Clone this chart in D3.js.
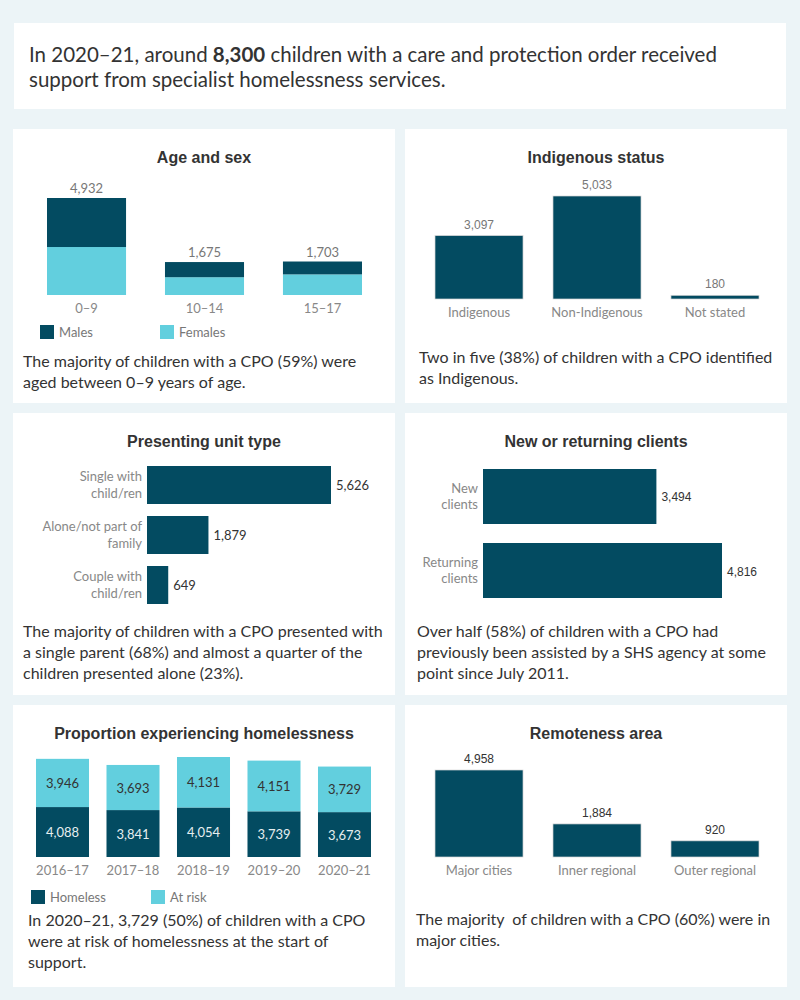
<!DOCTYPE html>
<html><head><meta charset="utf-8">
<script src="https://cdn.jsdelivr.net/npm/d3@7"></script>
<style>
html,body{margin:0;padding:0;background:#ECF4F7;}
svg{display:block;}
</style></head>
<body>
<svg id="chart" width="800" height="1000"></svg>
<script>
// ---------- DATA ----------
const ageGroups = ["0–9", "10–14", "15–17"];
const ageMales = [2492, 770, 655];
const ageFemales = [2440, 905, 1048];
const ageTotals = [4932, 1675, 1703];

const indigCats = ["Indigenous", "Non-Indigenous", "Not stated"];
const indigValues = [3097, 5033, 180];

const unitCats = [["Single with", "child/ren"], ["Alone/not part of", "family"], ["Couple with", "child/ren"]];
const unitValues = [5626, 1879, 649];

const clientCats = [["New", "clients"], ["Returning", "clients"]];
const clientValues = [3494, 4816];

const years = ["2016–17", "2017–18", "2018–19", "2019–20", "2020–21"];
const homeless = [4088, 3841, 4054, 3739, 3673];
const atRisk = [3946, 3693, 4131, 4151, 3729];

const remoteCats = ["Major cities", "Inner regional", "Outer regional"];
const remoteValues = [4958, 1884, 920];

// ---------- STYLE ----------
const DARK = "#034B61", LIGHT = "#62CFDE";
const BODY = "Lato, 'Open Sans', sans-serif";
const ARIAL = "'Liberation Sans', Arial, sans-serif";
const fmt = d3.format(",");

const svg = d3.select("#chart");

// panels
const panels = [
  [14, 23, 772, 86],
  [13, 129, 382, 274], [405, 129, 382, 274],
  [13, 413, 382, 282], [405, 413, 382, 282],
  [13, 705, 382, 282], [405, 705, 382, 282]
];
svg.selectAll("rect.panel").data(panels).join("rect")
  .attr("class", "panel")
  .attr("x", d => d[0]).attr("y", d => d[1])
  .attr("width", d => d[2]).attr("height", d => d[3])
  .attr("fill", "#fff");

// header
const hdr = svg.append("text").attr("font-family", BODY).attr("font-size", 20.5).attr("fill", "#333");
const l1 = hdr.append("tspan").attr("x", 29).attr("y", 62);
l1.append("tspan").text("In 2020–21, around ");
l1.append("tspan").attr("font-weight", "bold").text("8,300");
l1.append("tspan").text(" children with a care and protection order received");
hdr.append("tspan").attr("x", 29).attr("y", 87).text("support from specialist homelessness services.");

function title(x, y, t) {
  svg.append("text").attr("x", x).attr("y", y).attr("text-anchor", "middle")
    .attr("font-family", ARIAL).attr("font-weight", "bold").attr("font-size", 16)
    .attr("fill", "#333").text(t);
}
function desc(x, y, lines) {
  const t = svg.append("text").attr("font-family", BODY).attr("font-size", 16).attr("fill", "#333")
    .style("white-space", "pre");
  lines.forEach((l, i) => t.append("tspan").attr("x", x).attr("y", y + i * 21).text(l));
}
function legend(items) {
  items.forEach(it => {
    svg.append("rect").attr("x", it.x).attr("y", it.y - 7).attr("width", 14).attr("height", 14).attr("fill", it.color);
    svg.append("text").attr("x", it.x + 19).attr("y", it.y + 5).attr("font-family", BODY)
      .attr("font-size", 13).attr("fill", "#777").text(it.label);
  });
}

// ---------- Age and sex ----------
title(204, 163, "Age and sex");
{
  const x = d3.scaleBand().domain(ageGroups).range([47, 362]).paddingInner(0.33).paddingOuter(0);
  const y = d3.scaleLinear().domain([0, d3.max(ageTotals)]).range([295, 198]);
  const g = svg.append("g");
  const rows = ageGroups.map((a, i) => ({a, m: ageMales[i], f: ageFemales[i], t: ageTotals[i]}));
  g.selectAll("rect.f").data(rows).join("rect")
    .attr("x", d => x(d.a)).attr("width", x.bandwidth())
    .attr("y", d => y(d.f)).attr("height", d => y(0) - y(d.f)).attr("fill", LIGHT);
  g.selectAll("rect.m").data(rows).join("rect")
    .attr("x", d => x(d.a)).attr("width", x.bandwidth())
    .attr("y", d => y(d.f + d.m)).attr("height", d => y(d.f) - y(d.f + d.m)).attr("fill", DARK);
  g.selectAll("text.v").data(rows).join("text")
    .attr("x", d => x(d.a) + x.bandwidth() / 2).attr("y", d => y(d.f + d.m) - 5)
    .attr("text-anchor", "middle").attr("font-family", BODY).attr("font-size", 13).attr("fill", "#777")
    .text(d => fmt(d.t));
  const ax = svg.append("g").attr("transform", "translate(0,295)")
    .call(d3.axisBottom(x).tickSize(0).tickPadding(9));
  ax.select(".domain").remove();
  ax.selectAll("text").attr("font-family", BODY).attr("font-size", 13).attr("fill", "#888");
  legend([{x: 40, y: 332, color: DARK, label: "Males"}, {x: 160, y: 332, color: LIGHT, label: "Females"}]);
  desc(23, 367, ["The majority of children with a CPO (59%) were", "aged between 0–9 years of age."]);
}

// ---------- simple vertical bars ----------
function vbars(cats, vals, range, bottom, top, labelFont, labelColor) {
  const x = d3.scaleBand().domain(cats).range(range).paddingInner(0.254).paddingOuter(0);
  const y = d3.scaleLinear().domain([0, d3.max(vals)]).range([bottom, top]);
  const rows = cats.map((c, i) => ({c, v: vals[i]}));
  const g = svg.append("g");
  g.selectAll("rect").data(rows).join("rect")
    .attr("x", d => x(d.c)).attr("width", x.bandwidth())
    .attr("y", d => y(d.v)).attr("height", d => y(0) - y(d.v))
    .attr("fill", DARK).attr("stroke", "#d6d6d6").attr("stroke-width", 0.7);
  g.selectAll("text").data(rows).join("text")
    .attr("x", d => x(d.c) + x.bandwidth() / 2).attr("y", d => y(d.v) - 7)
    .attr("text-anchor", "middle").attr("font-family", labelFont).attr("font-size", 12).attr("fill", labelColor)
    .text(d => fmt(d.v));
  const ax = svg.append("g").attr("transform", `translate(0,${bottom})`)
    .call(d3.axisBottom(x).tickSize(0).tickPadding(9));
  ax.select(".domain").remove();
  ax.selectAll("text").attr("font-family", BODY).attr("font-size", 13).attr("fill", "#888");
}

title(596, 163, "Indigenous status");
vbars(indigCats, indigValues, [435, 759], 299, 196, ARIAL, "#777");
desc(419, 363, ["Two in five (38%) of children with a CPO identified", "as Indigenous."]);

title(596, 739, "Remoteness area");
vbars(remoteCats, remoteValues, [435, 759], 857, 770, ARIAL, "#333");
desc(416, 925, ["The majority  of children with a CPO (60%) were in", "major cities."]);

// ---------- horizontal bars ----------
function hbars(cats, vals, yRange, pad, x0, x1, labelFont, lineGap) {
  const keys = cats.map(c => c.join(" "));
  const y = d3.scaleBand().domain(keys).range(yRange).paddingInner(pad).paddingOuter(0);
  const x = d3.scaleLinear().domain([0, d3.max(vals)]).range([x0, x1]);
  const rows = keys.map((k, i) => ({k, lines: cats[i], v: vals[i]}));
  const g = svg.append("g");
  g.selectAll("rect").data(rows).join("rect")
    .attr("x", x(0)).attr("width", d => x(d.v) - x(0))
    .attr("y", d => y(d.k)).attr("height", y.bandwidth()).attr("fill", DARK);
  g.selectAll("text.v").data(rows).join("text")
    .attr("x", d => x(d.v) + 5).attr("y", d => y(d.k) + y.bandwidth() / 2 + 5)
    .attr("font-family", labelFont).attr("font-size", labelFont === ARIAL ? 12 : 13).attr("fill", "#333")
    .text(d => fmt(d.v));
  const ax = svg.append("g").attr("transform", `translate(${x0},0)`)
    .call(d3.axisLeft(y).tickSize(0).tickPadding(5));
  ax.select(".domain").remove();
  ax.selectAll("text").each(function(k) {
    const r = rows.find(r => r.k === k);
    const t = d3.select(this).text(null).attr("dy", null).attr("y", 0)
      .attr("font-family", BODY).attr("font-size", 13).attr("fill", "#888");
    r.lines.forEach((l, i) => t.append("tspan").attr("x", -5)
      .attr("y", (i - (r.lines.length - 1) / 2) * lineGap + 4.5).text(l));
  });
}

title(204, 447, "Presenting unit type");
hbars(unitCats, unitValues, [466, 604], 0.24, 147, 331, BODY, 17);
desc(23, 637, ["The majority of children with a CPO presented with", "a single parent (68%) and almost a quarter of the", "children presented alone (23%)."]);

title(596, 447, "New or returning clients");
hbars(clientCats, clientValues, [469, 598], 0.2568, 483, 722, ARIAL, 16);
desc(417, 637, ["Over half (58%) of children with a CPO had", "previously been assisted by a SHS agency at some", "point since July 2011."]);

// ---------- Proportion experiencing homelessness ----------
title(204, 739, "Proportion experiencing homelessness");
{
  const x = d3.scaleBand().domain(years).range([36, 371]).paddingInner(0.248).paddingOuter(0);
  const rows = years.map((yr, i) => ({yr, h: homeless[i], r: atRisk[i]}));
  const y = d3.scaleLinear().domain([0, d3.max(rows, d => d.h + d.r)]).range([857, 757]);
  const g = svg.append("g");
  g.selectAll("rect.h").data(rows).join("rect")
    .attr("x", d => x(d.yr)).attr("width", x.bandwidth())
    .attr("y", d => y(d.h)).attr("height", d => y(0) - y(d.h)).attr("fill", DARK);
  g.selectAll("rect.r").data(rows).join("rect")
    .attr("x", d => x(d.yr)).attr("width", x.bandwidth())
    .attr("y", d => y(d.h + d.r)).attr("height", d => y(d.h) - y(d.h + d.r)).attr("fill", LIGHT);
  g.selectAll("text.h").data(rows).join("text")
    .attr("x", d => x(d.yr) + x.bandwidth() / 2).attr("y", d => (y(0) + y(d.h)) / 2 + 5)
    .attr("text-anchor", "middle").attr("font-family", BODY).attr("font-size", 13).attr("fill", "#e6eef0")
    .text(d => fmt(d.h));
  g.selectAll("text.r").data(rows).join("text")
    .attr("x", d => x(d.yr) + x.bandwidth() / 2).attr("y", d => (y(d.h) + y(d.h + d.r)) / 2 + 5)
    .attr("text-anchor", "middle").attr("font-family", BODY).attr("font-size", 13).attr("fill", "#333")
    .text(d => fmt(d.r));
  const ax = svg.append("g").attr("transform", "translate(0,857)")
    .call(d3.axisBottom(x).tickSize(0).tickPadding(9));
  ax.select(".domain").remove();
  ax.selectAll("text").attr("font-family", BODY).attr("font-size", 13).attr("fill", "#888");
  legend([{x: 31, y: 897, color: DARK, label: "Homeless"}, {x: 151, y: 897, color: LIGHT, label: "At risk"}]);
  desc(28, 926, ["In 2020–21, 3,729 (50%) of children with a CPO", "were at risk of homelessness at the start of", "support."]);
}
</script>
</body></html>
